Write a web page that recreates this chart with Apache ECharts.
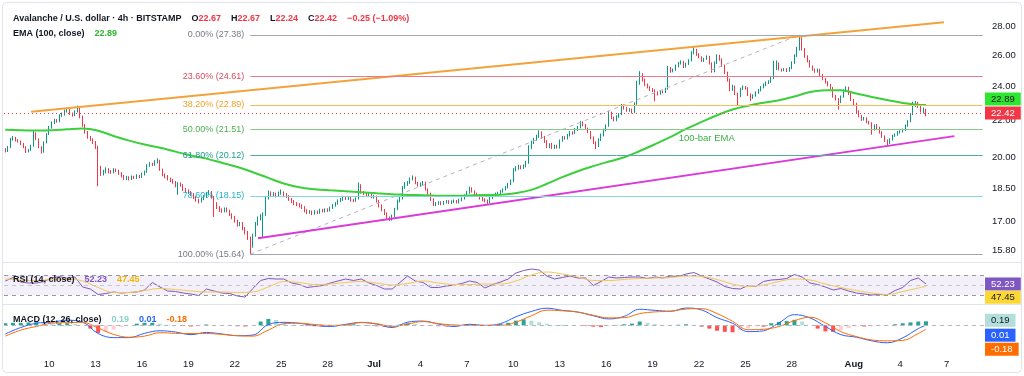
<!DOCTYPE html>
<html>
<head>
<meta charset="utf-8">
<title>Avalanche / U.S. dollar · 4h</title>
<script src="https://cdn.jsdelivr.net/npm/echarts@6/dist/echarts.min.js"></script>
<style>
  html, body { margin: 0; padding: 0; background: #fff; }
  #chart { width: 1024px; height: 376px; }
</style>
</head>
<body>
<div id="chart"></div>
<script>
// 4h candles from Jun 7 04:00 to Aug 5 16:00, open = previous close
const firstOpen = 20.42
const closes = [
  20.35, 20.55, 20.98, 21.05, 20.92,
  20.85, 20.72, 20.55, 20.32, 20.40, 20.62,
  21.30, 20.98, 20.55, 20.30, 20.80, 21.25,
  21.62, 21.88, 22.02, 21.95, 22.28, 22.35,
  22.52, 22.60, 22.38, 22.30, 22.50, 22.68,
  22.20, 21.72, 21.35, 21.08, 20.95, 20.80,
  20.55, 19.45, 19.20, 19.32, 19.40, 19.30,
  19.28, 19.40, 19.35, 19.22, 19.10, 18.98,
  19.02, 18.96, 19.05, 19.00, 19.10, 19.06,
  19.20, 19.30, 19.62, 19.70, 19.66, 19.80,
  19.85, 19.40, 19.15, 19.08, 18.95, 18.88,
  18.80, 18.62, 18.72, 18.65, 18.45, 18.40,
  18.30, 18.22, 18.08, 17.95, 17.88, 18.00,
  18.12, 18.28, 18.34, 18.10, 17.80, 17.62,
  17.50, 17.45, 17.56, 17.48, 17.30, 17.18,
  17.02, 16.86, 16.92, 16.70, 16.55, 16.30,
  15.95, 16.40, 16.90, 17.15, 17.22, 17.30,
  18.05, 18.30, 18.20, 18.25, 18.15, 18.28,
  18.30, 18.20, 18.12, 18.00, 17.90, 17.80,
  17.75, 17.70, 17.62, 17.48, 17.40, 17.42,
  17.35, 17.42, 17.38, 17.50, 17.45, 17.52,
  17.48, 17.60, 17.72, 17.80, 17.92, 17.98,
  18.08, 18.02, 18.06, 17.95, 17.92, 18.02,
  18.65, 18.30, 18.25, 18.18, 18.22, 18.10,
  18.12, 17.90, 17.70, 17.50, 17.35, 17.18,
  17.10, 17.25, 17.55, 17.92, 18.02, 18.55,
  18.70, 18.78, 18.95, 19.02, 18.75, 18.65,
  18.72, 18.78, 18.45, 18.25, 17.98, 17.75,
  17.80, 17.85, 17.78, 17.86, 17.90, 17.84,
  17.88, 17.92, 17.85, 17.96, 18.02, 18.15,
  18.30, 18.50, 18.35, 18.25, 18.18, 18.05,
  17.98, 17.92, 17.86, 18.05, 18.18, 18.22,
  18.28, 18.36, 18.45, 18.55, 18.70, 18.85,
  19.40, 19.48, 19.55, 19.50, 19.58, 19.75,
  20.55, 20.82, 20.98, 21.12, 21.35, 21.10,
  20.85, 20.58, 20.70, 20.52, 20.62, 20.55,
  20.90, 21.08, 21.02, 21.20, 21.35, 21.30,
  21.50, 21.62, 21.88, 21.75, 21.55, 21.38,
  21.05, 20.80, 20.62, 20.95, 21.20, 21.48,
  21.70, 22.45, 22.15, 22.02, 22.22, 22.35,
  22.85, 22.70, 22.58, 22.62, 22.48, 22.98,
  24.20, 24.75, 24.40, 24.10, 23.95, 23.82,
  23.75, 23.62, 23.58, 23.70, 23.65, 23.85,
  25.15, 24.95, 25.05, 25.30, 25.45, 25.55,
  25.25, 25.42, 25.65, 26.15, 26.38, 26.05,
  25.85, 25.62, 25.75, 25.90, 25.45, 24.95,
  25.50, 25.95, 25.70, 25.30, 24.85, 24.40,
  23.80, 23.98, 23.55, 23.40, 23.85, 23.95,
  23.88, 23.50, 23.32, 23.45, 23.62, 23.78,
  23.95, 24.10, 24.22, 24.30, 24.50, 25.10,
  25.45, 25.05, 25.00, 25.08, 24.98, 25.15,
  25.50, 25.95, 26.40, 27.10, 26.40, 25.90,
  25.60, 25.25, 25.05, 24.92, 25.05, 24.70,
  24.45, 24.25, 24.08, 23.90, 23.40, 23.25,
  23.05, 23.38, 23.75, 23.92, 23.55, 23.20,
  22.95, 22.50, 22.25, 22.08, 22.12, 21.92,
  21.85, 21.50, 21.72, 21.60, 21.35, 21.12,
  20.90, 20.78, 20.95, 21.15, 21.22, 21.35,
  21.40, 21.48, 21.70, 21.95, 22.35, 22.92,
  23.02, 22.80, 22.55, 22.67, 22.42
]
const highs = [
  20.50, 20.62, 21.05, 21.15, 21.10,
  20.98, 20.90, 20.78, 20.60, 20.45, 20.68,
  21.42, 21.35, 21.02, 20.60, 20.86, 21.30,
  21.70, 21.95, 22.10, 22.08, 22.35, 22.45,
  22.62, 22.72, 22.65, 22.45, 22.58, 22.85,
  22.75, 22.28, 21.80, 21.42, 21.15, 21.02,
  20.88, 20.62, 19.60, 19.40, 19.52, 19.48,
  19.38, 19.48, 19.46, 19.40, 19.28, 19.15,
  19.10, 19.08, 19.12, 19.10, 19.18, 19.15,
  19.26, 19.36, 19.68, 19.78, 19.75, 19.88,
  19.98, 19.90, 19.46, 19.22, 19.14, 19.02,
  18.95, 18.85, 18.80, 18.78, 18.70, 18.52,
  18.45, 18.38, 18.28, 18.15, 18.02, 18.06,
  18.18, 18.34, 18.42, 18.38, 18.14, 17.86,
  17.68, 17.58, 17.62, 17.62, 17.52, 17.36,
  17.25, 17.08, 16.98, 16.98, 16.76, 16.60,
  16.36, 16.48, 16.98, 17.22, 17.32, 17.40,
  18.12, 18.40, 18.36, 18.32, 18.30, 18.35,
  18.45, 18.36, 18.28, 18.18, 18.06, 17.96,
  17.86, 17.82, 17.76, 17.68, 17.54, 17.50,
  17.48, 17.50, 17.48, 17.56, 17.55, 17.58,
  17.58, 17.66, 17.78, 17.86, 17.98, 18.05,
  18.15, 18.12, 18.12, 18.10, 18.00, 18.08,
  18.78, 18.70, 18.38, 18.30, 18.28, 18.26,
  18.20, 18.16, 17.96, 17.76, 17.55, 17.40,
  17.22, 17.30, 17.60, 17.98, 18.10, 18.62,
  18.80, 18.85, 19.02, 19.12, 19.06, 18.82,
  18.78, 18.85, 18.82, 18.50, 18.30, 18.04,
  17.86, 17.90, 17.90, 17.92, 17.96, 17.95,
  17.94, 17.98, 17.96, 18.02, 18.08, 18.22,
  18.38, 18.58, 18.55, 18.40, 18.30, 18.22,
  18.10, 18.04, 17.98, 18.10, 18.24, 18.30,
  18.34, 18.42, 18.50, 18.62, 18.76, 18.92,
  19.48, 19.58, 19.65, 19.62, 19.66, 19.85,
  20.65, 20.90, 21.05, 21.22, 21.45, 21.40,
  21.15, 20.92, 20.76, 20.78, 20.68, 20.68,
  20.96, 21.15, 21.14, 21.26, 21.42, 21.40,
  21.58, 21.70, 21.98, 21.95, 21.80, 21.60,
  21.42, 21.12, 20.86, 21.02, 21.28, 21.55,
  21.78, 22.55, 22.50, 22.22, 22.30, 22.42,
  22.95, 22.92, 22.78, 22.70, 22.68, 23.05,
  24.35, 24.95, 24.82, 24.48, 24.18, 24.02,
  23.90, 23.82, 23.70, 23.78, 23.76, 23.92,
  25.30, 25.22, 25.12, 25.38, 25.55, 25.65,
  25.62, 25.50, 25.72, 26.25, 26.55, 26.42,
  26.12, 25.92, 25.82, 25.98, 25.95, 25.52,
  25.58, 26.05, 26.02, 25.78, 25.38, 24.92,
  24.48, 24.10, 24.05, 23.62, 23.92, 24.05,
  24.02, 23.95, 23.58, 23.52, 23.70, 23.85,
  24.02, 24.18, 24.30, 24.38, 24.58, 25.62,
  25.65, 25.52, 25.12, 25.15, 25.14, 25.22,
  25.58, 26.05, 26.55, 27.38, 27.20, 26.48,
  25.98, 25.68, 25.32, 25.12, 25.12, 25.10,
  24.78, 24.52, 24.32, 24.15, 23.96, 23.48,
  23.30, 23.45, 23.82, 24.00, 23.98, 23.60,
  23.25, 23.02, 22.58, 22.32, 22.20, 22.18,
  21.98, 21.90, 21.78, 21.80, 21.65, 21.40,
  21.18, 20.96, 21.02, 21.22, 21.28, 21.42,
  21.46, 21.55, 21.78, 22.02, 22.42, 23.08,
  23.12, 23.08, 22.86, 22.74, 22.67
]
const lows = [
  20.28, 20.30, 20.50, 20.90, 20.85,
  20.80, 20.66, 20.50, 20.25, 20.28, 20.36,
  20.58, 20.92, 20.50, 20.22, 20.26, 20.75,
  21.20, 21.55, 21.80, 21.88, 21.90, 22.20,
  22.28, 22.45, 22.32, 22.22, 22.25, 22.45,
  22.12, 21.65, 21.28, 21.00, 20.88, 20.72,
  20.45, 18.60, 19.10, 19.12, 19.22, 19.22,
  19.20, 19.22, 19.28, 19.15, 19.02, 18.90,
  18.90, 18.88, 18.90, 18.95, 18.95, 18.98,
  19.00, 19.12, 19.25, 19.55, 19.58, 19.60,
  19.72, 19.35, 19.08, 18.98, 18.88, 18.80,
  18.72, 18.55, 18.20, 18.58, 18.38, 18.32,
  18.24, 18.15, 18.00, 17.88, 17.80, 17.84,
  17.95, 18.06, 18.20, 18.02, 17.20, 17.55,
  17.42, 17.38, 17.40, 17.40, 17.24, 17.10,
  16.95, 16.78, 16.80, 16.62, 16.45, 16.22,
  15.64, 15.90, 16.35, 16.82, 17.05, 16.30,
  17.25, 17.98, 18.12, 18.10, 18.08, 18.10,
  18.20, 18.12, 18.05, 17.92, 17.82, 17.72,
  17.68, 17.62, 17.55, 17.40, 17.32, 17.34,
  17.28, 17.30, 17.32, 17.34, 17.40, 17.40,
  17.42, 17.44, 17.55, 17.66, 17.75, 17.86,
  17.92, 17.96, 17.96, 17.88, 17.86, 17.88,
  17.98, 18.25, 18.18, 18.12, 18.12, 18.04,
  18.02, 17.84, 17.62, 17.44, 17.28, 17.10,
  17.02, 17.04, 17.20, 17.50, 17.85, 17.98,
  18.48, 18.62, 18.72, 18.88, 18.70, 18.58,
  18.58, 18.66, 18.40, 18.18, 17.92, 17.68,
  17.68, 17.74, 17.72, 17.74, 17.80, 17.78,
  17.78, 17.82, 17.80, 17.80, 17.90, 17.98,
  18.10, 18.25, 18.30, 18.18, 18.12, 17.98,
  17.90, 17.85, 17.78, 17.82, 18.00, 18.12,
  18.15, 18.22, 18.30, 18.40, 18.50, 18.65,
  18.80, 19.32, 19.40, 19.42, 19.44, 19.52,
  19.70, 20.45, 20.72, 20.90, 21.05, 21.00,
  20.78, 20.50, 20.50, 20.45, 20.46, 20.48,
  20.48, 20.84, 20.95, 20.96, 21.12, 21.22,
  21.25, 21.42, 21.56, 21.68, 21.48, 21.30,
  20.98, 20.72, 20.45, 20.56, 20.88, 21.12,
  21.40, 21.65, 22.08, 21.95, 21.96, 22.15,
  22.30, 22.62, 22.50, 22.50, 22.40, 22.42,
  22.90, 24.10, 24.30, 24.02, 23.88, 23.72,
  23.66, 23.10, 23.45, 23.50, 23.58, 23.60,
  23.80, 24.85, 24.88, 24.98, 25.20, 25.38,
  25.15, 25.18, 25.35, 25.58, 26.05, 25.95,
  25.78, 25.55, 25.55, 25.68, 25.38, 24.85,
  24.88, 25.42, 25.62, 25.22, 24.78, 24.30,
  23.70, 23.72, 23.48, 22.88, 23.35, 23.78,
  23.80, 23.42, 23.12, 23.25, 23.38, 23.55,
  23.70, 23.88, 24.02, 24.15, 24.22, 24.45,
  25.02, 25.00, 24.92, 24.95, 24.90, 24.92,
  25.08, 25.42, 25.88, 26.30, 26.30, 25.82,
  25.52, 25.18, 24.98, 24.85, 24.86, 24.62,
  24.38, 24.18, 24.00, 23.82, 23.32, 23.15,
  22.62, 23.00, 23.32, 23.68, 23.48, 23.12,
  22.88, 22.42, 22.18, 21.98, 22.00, 21.85,
  21.78, 21.22, 21.45, 21.52, 21.28, 21.05,
  20.82, 20.66, 20.72, 20.90, 21.10, 21.16,
  21.28, 21.34, 21.42, 21.65, 21.90, 22.30,
  22.78, 22.72, 22.45, 22.40, 22.24
]

// EMA 100, read every 6 bars (plus the last bar)
const emaValues = [
  21.49, 21.46, 21.45, 21.46, 21.51, 21.55, 21.43, 21.15, 20.90, 20.69,
  20.52, 20.32, 20.12, 19.96, 19.75, 19.54, 19.28, 19.00, 18.73, 18.55,
  18.46, 18.41, 18.37, 18.32, 18.27, 18.23, 18.19, 18.18, 18.15, 18.15,
  18.17, 18.19, 18.20, 18.28, 18.43, 18.72, 19.04, 19.33, 19.58, 19.81,
  20.03, 20.35, 20.71, 21.10, 21.53, 21.92, 22.30, 22.63, 22.85, 23.02,
  23.17, 23.39, 23.66, 23.77, 23.77, 23.57, 23.36, 23.18, 23.01, 22.90,
  22.89
]
// RSI(14), read every 3 bars
const rsiValues = [
  58, 65, 56, 54, 54, 57, 64, 67, 63, 66,
  46, 42, 31, 33, 36, 34, 35, 36, 40, 55,
  46, 38, 37, 34, 32, 29, 42, 38, 34, 33,
  28, 26, 43, 59, 63, 62, 62, 54, 51, 45,
  47, 49, 54, 58, 62, 59, 62, 54, 49, 42,
  42, 55, 68, 58, 55, 45, 45, 48, 50, 53,
  58, 55, 44, 51, 56, 62, 74, 79, 82, 80,
  68, 62, 65, 68, 64, 64, 49, 57, 66, 64,
  65, 66, 66, 63, 66, 64, 68, 67, 72, 75,
  68, 62, 56, 47, 43, 42, 49, 47, 57, 60,
  61, 63, 71, 66, 54, 51, 46, 40, 43, 38,
  34, 32, 30, 31, 30, 39, 45, 59, 64, 52.23
]
// RSI-based MA, every 6 bars (plus the last bar)
const rsiMaValues = [
  62, 60, 59, 61, 62, 58, 45, 35, 35, 39,
  43, 41, 38, 36, 36, 35, 36, 46, 57, 55,
  51, 52, 55, 57, 54, 50, 53, 58, 54, 51,
  51, 52, 52, 58, 70, 76, 72, 66, 59, 59,
  61, 63, 64, 65, 68, 67, 61, 52, 47, 50,
  57, 62, 60, 52, 45, 39, 34, 31, 37, 44,
  47.45
]
// MACD(12, 26) and signal, every 6 bars (plus the last bar)
const macdValues = [
  -0.40, -0.10, 0.10, 0.15, 0.24, 0.15, -0.38, -0.57, -0.57, -0.37,
  -0.25, -0.31, -0.43, -0.33, -0.40, -0.48, -0.45, 0.04, 0.14, 0.10,
  0.00, -0.05, 0.05, 0.14, 0.06, -0.10, 0.15, 0.20, 0.06, -0.05,
  0.05, 0.00, 0.08, 0.40, 0.65, 0.80, 0.70, 0.62, 0.45, 0.30,
  0.42, 0.75, 0.70, 0.66, 0.81, 0.72, 0.36, 0.10, -0.29, -0.25,
  0.12, 0.50, 0.35, -0.05, -0.43, -0.55, -0.72, -0.81, -0.58, -0.15,
  0.01
]
const signalValues = [
  -0.50, -0.22, -0.05, 0.10, 0.13, 0.14, -0.12, -0.42, -0.55, -0.50,
  -0.34, -0.37, -0.38, -0.38, -0.42, -0.48, -0.50, -0.22, 0.08, 0.10,
  0.04, 0.00, 0.02, 0.13, 0.08, -0.05, 0.06, 0.18, 0.08, 0.02,
  0.00, 0.00, 0.00, 0.15, 0.45, 0.71, 0.68, 0.62, 0.47, 0.35,
  0.36, 0.55, 0.63, 0.66, 0.76, 0.78, 0.55, 0.19, -0.20, -0.18,
  -0.05, 0.22, 0.38, 0.12, -0.29, -0.52, -0.68, -0.72, -0.70, -0.38,
  -0.18
]
// MACD histogram, every 3 bars
const histValues = [
  0.10, 0.12, 0.12, 0.14, 0.15, 0.10, 0.06, 0.10, 0.10, 0.06,
  0.00, -0.15, -0.35, -0.30, -0.20, -0.08, 0.00, 0.08, 0.12, 0.12,
  0.08, 0.03, 0.00, -0.03, -0.05, -0.03, 0.04, 0.02, 0.00, -0.02,
  -0.04, -0.05, 0.00, 0.18, 0.30, 0.25, 0.08, 0.02, 0.00, -0.03,
  -0.04, -0.05, -0.04, 0.00, 0.03, 0.05, 0.02, -0.02, -0.04, -0.06,
  -0.05, 0.04, 0.10, 0.06, 0.02, -0.03, -0.04, -0.05, -0.06, -0.02,
  0.03, 0.02, -0.02, 0.02, 0.06, 0.12, 0.22, 0.28, 0.22, 0.15,
  0.08, 0.02, 0.02, 0.01, 0.00, -0.03, -0.06, -0.08, -0.04, 0.02,
  0.05, 0.08, 0.18, 0.12, 0.06, 0.02, 0.00, 0.03, 0.05, 0.02,
  -0.06, -0.15, -0.25, -0.30, -0.32, -0.22, -0.12, -0.04, -0.06, 0.10,
  0.16, 0.20, 0.26, 0.18, 0.00, -0.15, -0.28, -0.30, -0.22, -0.12,
  -0.04, -0.05, -0.04, -0.03, -0.02, 0.05, 0.10, 0.14, 0.18, 0.19
]

const priceTicks = [28, 26, 24, 22, 20, 18.5, 17, 15.8]
const tickDays = ['06-10', '06-13', '06-16', '06-19', '06-22', '06-25', '06-28', '07-01', '07-04', '07-07',
  '07-10', '07-13', '07-16', '07-19', '07-22', '07-25', '07-28', '08-01', '08-04', '08-07']
const tickText = ['10', '13', '16', '19', '22', '25', '28', 'Jul', '4', '7',
  '10', '13', '16', '19', '22', '25', '28', 'Aug', '4', '7']

// fibonacci retracement between the Jun 23 low (bar 95) and the Jul 28 high (bar 308)
const fibStart = 95
const fibEnd = 308
const fibLevels = [0, 23.6, 38.2, 50, 61.8, 78.6, 100]
const fibPrices = [27.38, 24.61, 22.89, 21.51, 20.12, 18.15, 15.64]
const fibLine = ['#a3a6ae', '#ea7b8a', '#f6bd5a', '#86c98a', '#4fae9f', '#86d6de', '#a3a6ae']
const fibText = ['#787b86', '#d94a5f', '#f0a12a', '#4caf50', '#1f9c8b', '#22b2c6', '#787b86']

// trend lines: [bar, price]
const resistance = [[10, 22.50], [364, 28.28]]
const support = [[98, 16.29], [368, 21.14]]

const header = { open: 22.67, high: 22.67, low: 22.24, close: 22.42, change: '\u22120.25 (\u22121.09%)' }

const FONT = "'Liberation Sans', Arial, sans-serif"
const INK = '#131722'
const UP = '#089981'
const DOWN = '#f23645'
const FS = 9.5
const N_SLOTS = 380
const Y_MIN = 15.33
const Y_MAX = 29.32

const pad = v => String(v).padStart(2, '0')
const categories = []
const t0 = Date.UTC(2025, 5, 7, 4)
for (let i = 0; i < N_SLOTS; i++) {
  const d = new Date(t0 + i * 4 * 3600 * 1000)
  categories.push(`${pad(d.getUTCMonth() + 1)}-${pad(d.getUTCDate())} ${pad(d.getUTCHours())}:00`)
}

const n = closes.length
const opens = [firstOpen].concat(closes.slice(0, n - 1))
const candles = closes.map((c, i) => [opens[i], c, lows[i], highs[i]])
const every6 = arr => arr.map((v, k) => [k === arr.length - 1 ? n - 1 : k * 6, v])
const every3 = arr => arr.map((v, k) => [k * 3, v])

// coloured last-value box on the right scale (invisible line, visible label)
const tag = (value, bg, fg, dy, extra) => Object.assign({
  yAxis: value,
  lineStyle: { color: 'rgba(0,0,0,0)', width: 0 },
  label: {
    show: true, position: 'end', distance: 1, formatter: value.toFixed(2),
    backgroundColor: bg, color: fg, padding: [2, 6, 1, 6], fontSize: FS, fontFamily: FONT,
    offset: [0, dy]
  }
}, extra || {})

const fibMarks = fibLevels.map((lv, i) => [
  {
    coord: [fibStart, fibPrices[i]],
    lineStyle: { color: fibLine[i], width: 1, type: 'solid' },
    label: {
      show: true, position: 'start', distance: 6, color: fibText[i], fontSize: 9, fontFamily: FONT,
      formatter: `${lv.toFixed(2)}% (${fibPrices[i].toFixed(2)})`
    }
  },
  { coord: [N_SLOTS - 1, fibPrices[i]] }
])

const histColor = p => {
  const v = histValues[p.dataIndex]
  const prev = p.dataIndex > 0 ? histValues[p.dataIndex - 1] : v
  if (v >= 0) return v >= prev ? '#26a69a' : '#b2dfdb'
  return v < prev ? '#ff5252' : '#ffcdd2'
}

const rich = (extra) => Object.assign({ n: { color: INK, fontSize: 9, fontFamily: FONT } }, extra)

const chart = echarts.init(document.getElementById('chart'))
const xBase = { type: 'category', data: categories, boundaryGap: true, axisLine: { show: false }, axisTick: { show: false }, axisLabel: { show: false }, splitLine: { show: false } }

chart.setOption({
  animation: false,
  backgroundColor: '#ffffff',
  textStyle: { fontFamily: FONT },
  title: [
    {
      left: 13, top: 10, padding: 0,
      text: `{n|Avalanche / U.S. dollar · 4h · BITSTAMP}  {n|O}{r|${header.open.toFixed(2)}}  {n|H}{r|${header.high.toFixed(2)}}  {n|L}{r|${header.low.toFixed(2)}}  {n|C}{r|${header.close.toFixed(2)}}  {r|${header.change}}`,
      textStyle: { rich: rich({ r: { color: DOWN, fontSize: 9, fontFamily: FONT } }) }
    },
    {
      left: 13, top: 25, padding: 0,
      text: `{n|EMA (100, close)}  {g|${emaValues[emaValues.length - 1].toFixed(2)}}`,
      textStyle: { rich: rich({ g: { color: '#2fb52f', fontSize: 9, fontFamily: FONT } }) }
    },
    {
      left: 13, top: 271, padding: 0,
      text: `{n|RSI (14, close)}  {p|${rsiValues[rsiValues.length - 1].toFixed(2)}}  {y|${rsiMaValues[rsiMaValues.length - 1].toFixed(2)}}`,
      textStyle: { rich: rich({ p: { color: '#7e57c2', fontSize: 9, fontFamily: FONT }, y: { color: '#f2b705', fontSize: 9, fontFamily: FONT } }) }
    },
    {
      left: 13, top: 311, padding: 0,
      text: `{n|MACD (12, 26, close)}  {t|${histValues[histValues.length - 1].toFixed(2)}}  {b|${macdValues[macdValues.length - 1].toFixed(2)}}  {o|${signalValues[signalValues.length - 1].toFixed(2)}}`,
      textStyle: { rich: rich({ t: { color: '#8fd0c6', fontSize: 9, fontFamily: FONT }, b: { color: '#2962ff', fontSize: 9, fontFamily: FONT }, o: { color: '#ff6d00', fontSize: 9, fontFamily: FONT } }) }
    }
  ],
  graphic: [
    { type: 'rect', silent: true, shape: { x: 2.5, y: 2.5, width: 1019, height: 370, r: 4 }, style: { fill: 'none', stroke: '#e0e3eb' } },
    { type: 'line', silent: true, shape: { x1: 3, y1: 262.5, x2: 1021, y2: 262.5 }, style: { stroke: '#e0e3eb' } },
    { type: 'line', silent: true, shape: { x1: 3, y1: 304.5, x2: 1021, y2: 304.5 }, style: { stroke: '#e0e3eb' } }
  ],
  grid: [
    { left: 4, right: 40, top: 8, height: 254 },
    { left: 4, right: 40, top: 263, height: 42 },
    { left: 4, right: 40, top: 305, height: 44 }
  ],
  xAxis: [
    Object.assign({ gridIndex: 0 }, xBase),
    Object.assign({ gridIndex: 1 }, xBase),
    Object.assign({}, xBase, {
      gridIndex: 2,
      axisLabel: {
        show: true, color: INK, fontSize: FS, fontFamily: FONT, margin: 10,
        interval: (i, v) => v.slice(6) === '00:00' && tickDays.indexOf(v.slice(0, 5)) >= 0,
        formatter: v => {
          const t = tickText[tickDays.indexOf(v.slice(0, 5))]
          return isNaN(Number(t)) ? `{m|${t}}` : t
        },
        rich: { m: { fontWeight: 'bold', color: INK, fontSize: FS, fontFamily: FONT } }
      }
    })
  ],
  yAxis: [
    { gridIndex: 0, type: 'log', min: Y_MIN, max: Y_MAX, show: false },
    {
      gridIndex: 0, type: 'value', position: 'right', min: Math.log(Y_MIN), max: Math.log(Y_MAX),
      axisLine: { show: false }, axisTick: { show: false }, splitLine: { show: false },
      axisLabel: { customValues: priceTicks.map(Math.log), formatter: v => Math.exp(v).toFixed(2), color: INK, fontSize: FS, fontFamily: FONT, margin: 8 }
    },
    { gridIndex: 1, type: 'value', min: 10, max: 94, show: false },
    { gridIndex: 2, type: 'value', min: -1.1, max: 0.95, show: false }
  ],
  series: [
    {
      type: 'candlestick', xAxisIndex: 0, yAxisIndex: 0, data: candles, barWidth: 1.2,
      itemStyle: { color: UP, color0: DOWN, borderColor: UP, borderColor0: DOWN, borderWidth: 1 },
      markLine: {
        silent: true, symbol: ['none', 'none'], animation: false,
        data: fibMarks.concat([
          tag(header.close, DOWN, '#ffffff', 0, { lineStyle: { color: DOWN, type: [1, 3], width: 1 } })
        ])
      }
    },
    {
      type: 'line', name: 'fib trend', xAxisIndex: 0, yAxisIndex: 0, silent: true, symbol: 'none',
      data: [[fibStart, fibPrices[6]], [fibEnd, fibPrices[0]]],
      lineStyle: { color: '#b2b5be', width: 1, type: [4, 4] }
    },
    {
      type: 'line', name: 'EMA', xAxisIndex: 0, yAxisIndex: 0, silent: true, symbol: 'none', smooth: 0.4,
      data: every6(emaValues), lineStyle: { color: '#3ccf3c', width: 2 }, z: 3,
      markLine: { silent: true, symbol: ['none', 'none'], data: [tag(emaValues[emaValues.length - 1], '#2ee62e', INK, -6)] },
      markPoint: {
        silent: true, symbol: 'circle', symbolSize: 0,
        data: [{ coord: [272, 21.04], label: { show: true, position: 'inside', formatter: '100-bar EMA', color: '#3cb043', fontSize: 9.5, fontFamily: FONT } }]
      }
    },
    {
      type: 'line', name: 'resistance', xAxisIndex: 0, yAxisIndex: 0, silent: true, symbol: 'none',
      data: resistance, lineStyle: { color: '#f2a33a', width: 2 }, z: 4
    },
    {
      type: 'line', name: 'support', xAxisIndex: 0, yAxisIndex: 0, silent: true, symbol: 'none',
      data: support, lineStyle: { color: '#d93ad9', width: 2 }, z: 4
    },
    {
      type: 'line', name: 'RSI', xAxisIndex: 1, yAxisIndex: 2, silent: true, symbol: 'none',
      data: every3(rsiValues), lineStyle: { color: '#7e57c2', width: 1 }, z: 3,
      markArea: { silent: true, itemStyle: { color: 'rgba(126, 87, 194, 0.09)' }, data: [[{ yAxis: 30 }, { yAxis: 70 }]] },
      markLine: {
        silent: true, symbol: ['none', 'none'],
        data: [
          { yAxis: 70, lineStyle: { color: '#9598a1', type: [4, 4], width: 1 }, label: { show: false } },
          { yAxis: 50, lineStyle: { color: '#c4c6ce', type: [4, 4], width: 1 }, label: { show: false } },
          { yAxis: 30, lineStyle: { color: '#9598a1', type: [4, 4], width: 1 }, label: { show: false } },
          tag(rsiValues[rsiValues.length - 1], '#7e57c2', '#ffffff', 0)
        ]
      }
    },
    {
      type: 'line', name: 'RSI MA', xAxisIndex: 1, yAxisIndex: 2, silent: true, symbol: 'none', smooth: 0.4,
      data: every6(rsiMaValues), lineStyle: { color: '#f5c750', width: 1 },
      markLine: { silent: true, symbol: ['none', 'none'], data: [tag(rsiMaValues[rsiMaValues.length - 1], '#fdd835', INK, 11)] }
    },
    {
      type: 'bar', name: 'Histogram', xAxisIndex: 2, yAxisIndex: 3, silent: true, barWidth: 4,
      data: every3(histValues), itemStyle: { color: histColor },
      markLine: {
        silent: true, symbol: ['none', 'none'],
        data: [
          { yAxis: 0, lineStyle: { color: '#b2b5be', type: [4, 4], width: 1 }, label: { show: false } },
          tag(histValues[histValues.length - 1], '#b2dfdb', INK, -1)
        ]
      }
    },
    {
      type: 'line', name: 'MACD', xAxisIndex: 2, yAxisIndex: 3, silent: true, symbol: 'none', smooth: 0.4,
      data: every6(macdValues), lineStyle: { color: '#2962ff', width: 1 },
      markLine: { silent: true, symbol: ['none', 'none'], data: [tag(macdValues[macdValues.length - 1], '#2962ff', '#ffffff', 10)] }
    },
    {
      type: 'line', name: 'Signal', xAxisIndex: 2, yAxisIndex: 3, silent: true, symbol: 'none', smooth: 0.4,
      data: every6(signalValues), lineStyle: { color: '#ff6d00', width: 1 },
      markLine: { silent: true, symbol: ['none', 'none'], data: [tag(signalValues[signalValues.length - 1], '#ff6d00', '#ffffff', 20)] }
    }
  ]
})
</script>
</body>
</html>
